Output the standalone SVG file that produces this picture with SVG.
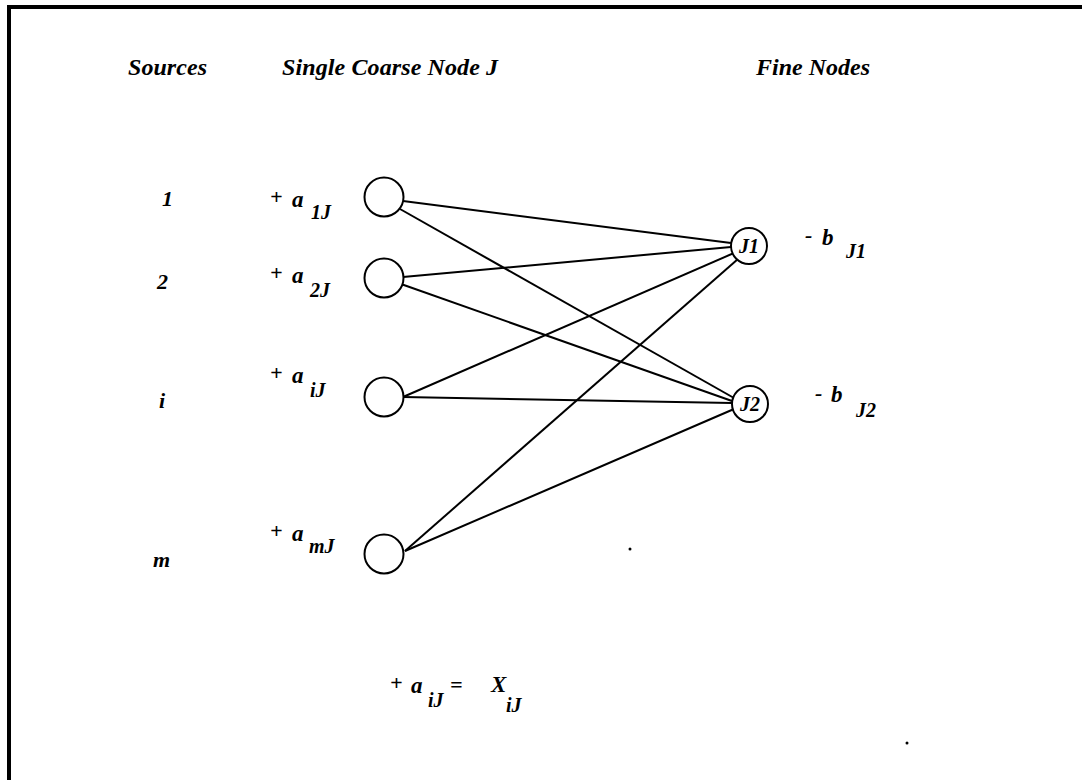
<svg xmlns="http://www.w3.org/2000/svg" width="1082" height="780" viewBox="0 0 1082 780">
<style>
text{font-family:"Liberation Serif","Times New Roman",serif;font-weight:bold;font-style:italic;fill:#000}
.h{font-size:24px}
.s{font-size:22px}
.a{font-size:23px}
.sub{font-size:20px}
.n{fill:#fff;stroke:#000;stroke-width:2}
.e{stroke:#000;stroke-width:2;fill:none}
</style>
<rect width="1082" height="780" fill="#fff"/>
<path d="M9 782V7H1082" fill="none" stroke="#000" stroke-width="4"/>
<g id="headers">
<text class="h" x="128" y="75" textLength="79">Sources</text>
<text class="h" x="282" y="75" textLength="216">Single Coarse Node J</text>
<text class="h" x="756" y="75" textLength="114">Fine Nodes</text>
</g>
<g id="sources">
<text class="s" x="162" y="206">1</text>
<text class="s" x="157" y="289">2</text>
<text class="s" x="159" y="408">i</text>
<text class="s" x="153" y="567">m</text>
</g>
<g id="connectors">
<line class="e" x1="403" y1="201" x2="731" y2="243"/>
<line class="e" x1="400" y1="209" x2="734" y2="398"/>
<line class="e" x1="403" y1="277" x2="731" y2="247"/>
<line class="e" x1="401" y1="284" x2="732" y2="401"/>
<line class="e" x1="403" y1="397" x2="734" y2="253"/>
<line class="e" x1="403" y1="397" x2="732" y2="403"/>
<line class="e" x1="405" y1="551" x2="738" y2="259"/>
<line class="e" x1="405" y1="551" x2="734" y2="409"/>
</g>
<g id="coarse1"><circle class="n" cx="384" cy="197" r="19.5"/>
<text class="s" x="270" y="204">+</text><text class="a" x="292" y="207">a</text><text class="sub" x="311" y="219">1J</text></g>
<g id="coarse2"><circle class="n" cx="384" cy="278" r="19.5"/>
<text class="s" x="270" y="280">+</text><text class="a" x="292" y="283">a</text><text class="sub" x="310" y="297">2J</text></g>
<g id="coarsei"><circle class="n" cx="384" cy="397" r="19.5"/>
<text class="s" x="270" y="380">+</text><text class="a" x="292" y="383">a</text><text class="sub" x="310" y="397">iJ</text></g>
<g id="coarsem"><circle class="n" cx="384" cy="554" r="19.5"/>
<text class="s" x="270" y="538">+</text><text class="a" x="292" y="541">a</text><text class="sub" x="309" y="553">mJ</text></g>
<g id="fineJ1"><circle class="n" cx="749" cy="246" r="18"/>
<text class="sub" x="749" y="253" text-anchor="middle">J1</text>
<text class="s" x="805" y="242">-</text><text class="a" x="822" y="245">b</text><text class="sub" x="846" y="258">J1</text></g>
<g id="fineJ2"><circle class="n" cx="750" cy="404" r="18"/>
<text class="sub" x="750" y="411" text-anchor="middle">J2</text>
<text class="s" x="815" y="400">-</text><text class="a" x="831" y="402">b</text><text class="sub" x="856" y="417">J2</text></g>
<g id="formula">
<text class="s" x="390" y="690">+</text><text class="a" x="411" y="693">a</text><text class="sub" x="428" y="707">iJ</text><text class="s" x="450" y="692">=</text><text class="a" x="491" y="692">X</text><text class="sub" x="506" y="712">iJ</text>
</g>
<circle cx="630" cy="549" r="1.5" fill="#000"/>
<circle cx="907" cy="743" r="1.5" fill="#000"/>
</svg>
